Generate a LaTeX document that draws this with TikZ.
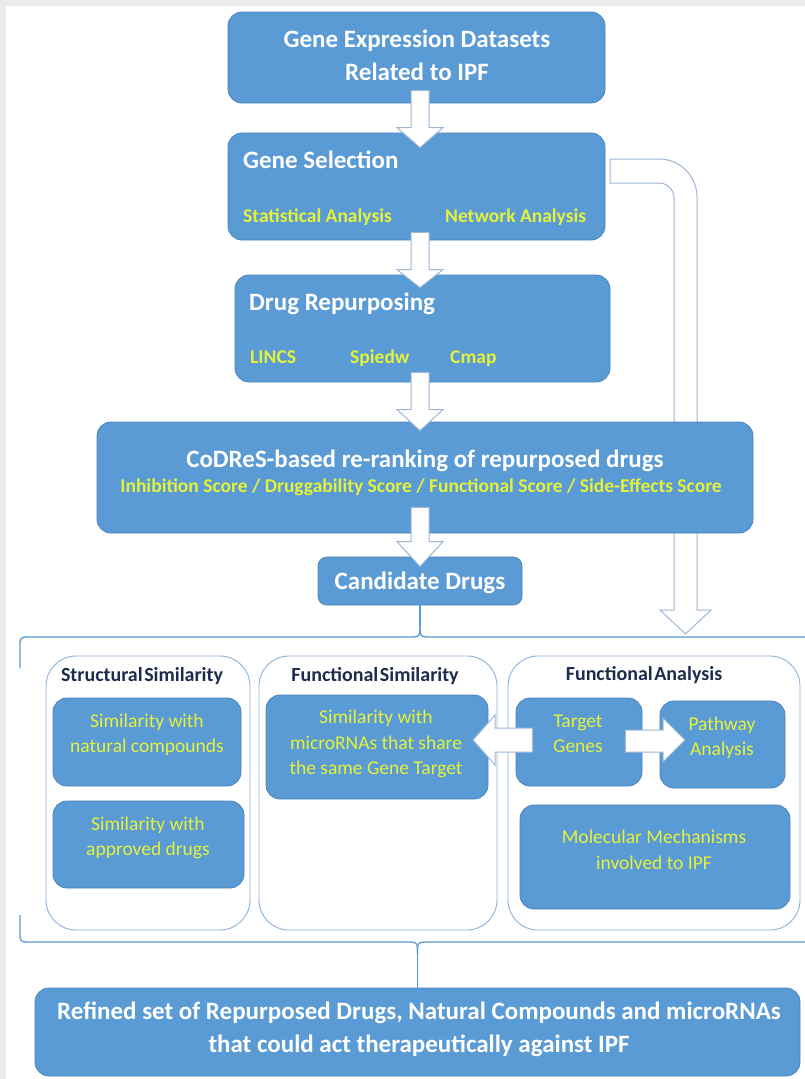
\documentclass[tikz,border=0pt]{standalone}
\usepackage{fontspec}
\setmainfont{Carlito}
\usetikzlibrary{calc,fit}
\definecolor{boxblue}{HTML}{5B9BD5}
\definecolor{boxedge}{HTML}{4A84BD}
\definecolor{ylw}{HTML}{E4F23A}
\definecolor{navy}{HTML}{1F2B4D}
\definecolor{panelline}{HTML}{8CB2DA}
\definecolor{arrline}{HTML}{9DB6D6}
\definecolor{framegray}{HTML}{EBEBEB}
% vertical block arrow: #1 from node, #2 to node, #3 shaft top (offset from #1.south, negative = up),
% #4 head start (offset from #2.north), #5 tip (offset from #2.north)
\newcommand\myvblock[5]{%
  \draw[blockarrow] ($(420,0 |- #1.south)+(-9,#3)$) -- ($(420,0 |- #2.north)+(-9,#4)$)
    -- ($(420,0 |- #2.north)+(-23,#4)$) -- ($(420,0 |- #2.north)+(0,#5)$)
    -- ($(420,0 |- #2.north)+(23,#4)$) -- ($(420,0 |- #2.north)+(9,#4)$)
    -- ($(420,0 |- #1.south)+(9,#3)$) -- cycle;}
\begin{document}
\begin{tikzpicture}[x=1pt,y=-1pt,
  bluebox/.style={draw=boxedge, line width=0.8pt, fill=boxblue, rounded corners=14pt, inner sep=0pt},
  smallbox/.style={bluebox, rounded corners=9pt},
  panelbox/.style={draw=panelline, line width=0.9pt, rounded corners=30pt, fill=white, inner sep=0pt},
  wtitle/.style={text=white, font=\fontsize{25}{33}\selectfont\bfseries, align=center, inner sep=0pt},
  ysub/.style={text=ylw, font=\fontsize{19.5}{24}\selectfont\bfseries, inner sep=0pt},
  yin/.style={text=ylw, font=\fontsize{19.5}{25.5}\selectfont, align=center, inner sep=0pt},
  ptitle/.style={text=navy, font=\fontsize{20}{24}\selectfont\bfseries, inner sep=0pt},
  blockarrow/.style={draw=arrline, line width=1pt, fill=white, line join=miter},
  bracket/.style={draw=boxblue, line width=1.3pt}]
\useasboundingbox (0,0) rectangle (805,1079);
\fill[white] (0,0) rectangle (805,1079);
\fill[framegray] (0,0) rectangle (805,6);
\fill[framegray] (0,0) rectangle (6,1079);

% bent arrow from Gene Selection to the analysis panels (behind the boxes)
\coordinate (gsout) at (610,159);
\draw[blockarrow] (gsout) -- (659,159) arc[start angle=90, end angle=0, radius=38pt]
  -- (697,610) -- (711,610) -- (685.5,634) -- (660,610) -- (674,610) -- (674,198)
  arc[start angle=0, end angle=90, radius=15pt] -- (610,183) -- cycle;

% main boxes
\node[bluebox, fit={(228,12)(605,103)}] (b1) {};
\node[bluebox, fit={(228,133)(605,240)}] (b2) {};
\node[bluebox, fit={(235,275)(610,382)}] (b3) {};
\node[bluebox, fit={(97,422)(753,533)}] (b4) {};
\node[smallbox, fit={(318,557)(522,605)}] (cand) {};

\node[wtitle] (t1) at (417,55) {Gene Expression Datasets\\Related to IPF};
\node[wtitle, anchor=base west] (t2) at (243,168) {Gene Selection};
\node[ysub, anchor=base west] (t2a) at (243,222) {Statistical Analysis};
\node[ysub, anchor=base west] (t2b) at (445,222) {Network Analysis};
\node[wtitle, anchor=base west] (t3) at (249,310) {Drug Repurposing};
\node[ysub, anchor=base west] (t3a) at (250,363) {LINCS};
\node[ysub, anchor=base west] (t3b) at (350,363) {Spiedw};
\node[ysub, anchor=base west] (t3c) at (450,363) {Cmap};
\node[wtitle, anchor=base] (t4) at (425,467) {CoDReS-based re-ranking of repurposed drugs};
\node[ysub, anchor=base] (t4a) at (421,492) {Inhibition Score / Druggability Score / Functional Score / Side-Effects Score};
\node[wtitle, anchor=base] (t5) at (420,589) {Candidate Drugs};

% vertical block arrows
\myvblock{b1}{b2}{-13}{-5}{15}
\myvblock{b2}{b3}{-8}{-5}{13}
\myvblock{b3}{b4}{-10}{-12}{9}
\myvblock{b4}{cand}{-26}{-15}{10}

% brackets
\draw[bracket] (cand.south) -- (420,626) coordinate (jt);
\draw[bracket] (jt) .. controls (420,637) .. (408,637) -- (30,637)
  .. controls (20,637) .. (20,647) -- (20,668);
\draw[bracket] (jt) .. controls (420,637) .. (432,637) -- (805,637);

% panels
\node[panelbox, fit={(46,656)(250,930)}] (p1) {};
\node[panelbox, fit={(259,656)(497,930)}] (p2) {};
\node[panelbox, fit={(508,656)(800,930)}] (p3) {};
\node[ptitle, anchor=base] (p1t) at (142,681) {{\spaceskip=1.5pt Structural Similarity}};
\node[ptitle, anchor=base] (p2t) at (375,681) {{\spaceskip=1.5pt Functional Similarity}};
\node[ptitle, anchor=base] (p3t) at (644,680) {{\spaceskip=1.5pt Functional Analysis}};

\node[bluebox, fit={(53,698)(241,786)}] (s1) {};
\node[bluebox, fit={(53,801)(244,888)}] (s2) {};
\node[bluebox, fit={(266,695)(488,799)}] (f1) {};
\node[bluebox, fit={(516,698)(642,786)}] (tg) {};
\node[bluebox, fit={(660,701)(785,788)}] (pa) {};
\node[bluebox, fit={(520,805)(790,909)}] (mm) {};

\node[yin] (s1t) at (147,735) {Similarity with\\natural compounds};
\node[yin] (s2t) at (148,838) {Similarity with\\approved drugs};
\node[yin] (f1t) at (376,744) {Similarity with\\microRNAs that share\\the same Gene Target};
\node[yin] (tgt) at (578,734) {Target\\Genes};
\node[yin] (pat) at (722,738) {Pathway\\Analysis};
\node[yin] (mmt) at (654,850) {Molecular Mechanisms\\involved to IPF};

% horizontal block arrows
\draw[blockarrow] ($(tg.west)+(17,-14)$) -- (495,728) -- (495,715) -- (473,740)
  -- (495,765) -- (495,752) -- ($(tg.west)+(17,10)$) -- cycle;
\draw[blockarrow] ($(tg.east)+(-17,-12)$) -- (663,730) -- (663,718) -- (685,740)
  -- (663,762) -- (663,752) -- ($(tg.east)+(-17,10)$) -- cycle;

% final box
\node[bluebox, fit={(35,988)(800,1076)}] (fin) {};
\node[wtitle] (fint) at (419,1029) {Refined set of Repurposed Drugs, Natural Compounds and microRNAs\\that could act therapeutically against IPF};

\draw[bracket] (20,915) -- (20,932) .. controls (20,942) .. (30,942) -- (405.5,942)
  .. controls (417.5,942) .. (417.5,954) coordinate (jb);
\draw[bracket] (jb) .. controls (417.5,942) .. (429.5,942) -- (805,942);
\draw[bracket] (jb) -- (fin.north);
\end{tikzpicture}
\end{document}
